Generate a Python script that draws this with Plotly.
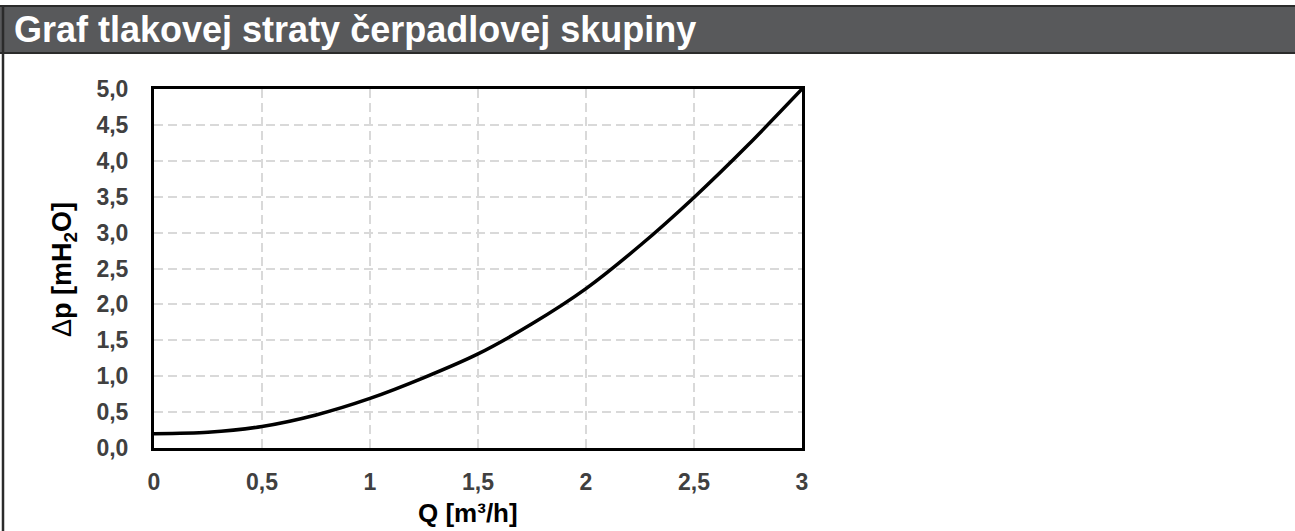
import plotly.graph_objects as go

# Data
flow_q = [0.0, 0.25, 0.5, 0.75, 1.0, 1.25, 1.5, 1.75, 2.0, 2.25, 2.5, 2.75, 3.0]
pressure_dp = [0.20, 0.22, 0.30, 0.46, 0.69, 0.98, 1.31, 1.73, 2.22, 2.82, 3.49, 4.22, 5.0]

x_ticks = [0, 0.5, 1, 1.5, 2, 2.5, 3]
y_ticks = [0, 0.5, 1, 1.5, 2, 2.5, 3, 3.5, 4, 4.5, 5]

title_text = "Graf tlakovej straty čerpadlovej skupiny"
x_title = "<b>Q [m³/h]</b>"
y_title = "Δ<b>p [mH<sub>2</sub>O]</b>"

W, H = 1295, 531
L, R, T, B = 154, 493, 89, 83
pw = W - L - R
ph = H - T - B


def px(xp):
    return (xp - L) / pw


def py(yp):
    return (H - B - yp) / ph


fig = go.Figure()
fig.add_trace(go.Scatter(
    x=flow_q, y=pressure_dp, mode="lines",
    line=dict(color="black", width=3.5, shape="spline", smoothing=0.8),
    hoverinfo="skip", showlegend=False,
))

font_family = "Liberation Sans, Arial, sans-serif"
tick_font = dict(family=font_family, size=23, color="#404040", weight="bold")

fig.update_layout(
    width=W, height=H,
    margin=dict(l=L, r=R, t=T, b=B, pad=0),
    paper_bgcolor="white", plot_bgcolor="white",
    separators=", ",
    font=dict(family=font_family),
    showlegend=False,
    xaxis=dict(
        range=[0, 3], tickvals=x_ticks, showgrid=True,
        gridcolor="#d9d9d9", gridwidth=2, griddash="9px,5px",
        showline=True, linecolor="black", linewidth=3, mirror=True,
        ticks="", ticklabelstandoff=11, zeroline=False,
        tickfont=tick_font, fixedrange=True,
    ),
    yaxis=dict(
        range=[0, 5], tickvals=y_ticks, tickformat=".1f", showgrid=True,
        gridcolor="#d9d9d9", gridwidth=2, griddash="9px,5px",
        showline=True, linecolor="black", linewidth=3, mirror=True,
        ticks="", ticklabelstandoff=18, zeroline=False,
        tickfont=tick_font, fixedrange=True,
    ),
    shapes=[
        # title bar
        dict(type="rect", xref="paper", yref="paper",
             x0=px(-5), x1=px(W + 5), y0=py(53), y1=py(6),
             fillcolor="#58595b", line=dict(color="#2b2b2b", width=2), layer="above"),
        # left border
        dict(type="line", xref="paper", yref="paper",
             x0=px(3), x1=px(3), y0=py(6), y1=py(H + 5),
             line=dict(color="#2b2b2b", width=2.5), layer="above"),
    ],
    annotations=[
        dict(text=title_text, xref="paper", yref="paper",
             x=px(12), y=py(29), xanchor="left", yanchor="middle",
             showarrow=False,
             font=dict(family=font_family, size=36, color="white", weight="bold")),
        dict(text=x_title, xref="paper", yref="paper",
             x=px(468), y=py(513), xanchor="center", yanchor="middle",
             showarrow=False,
             font=dict(family=font_family, size=26, color="black")),
        dict(text=y_title, xref="paper", yref="paper",
             x=px(64), y=py(270), xanchor="center", yanchor="middle",
             textangle=-90, showarrow=False,
             font=dict(family=font_family, size=27, color="black")),
    ],
)

fig.write_html(
    "out.html",
    config={"displayModeBar": False},
    post_script="document.body.style.margin='0px';document.body.style.overflow='hidden';",
)
